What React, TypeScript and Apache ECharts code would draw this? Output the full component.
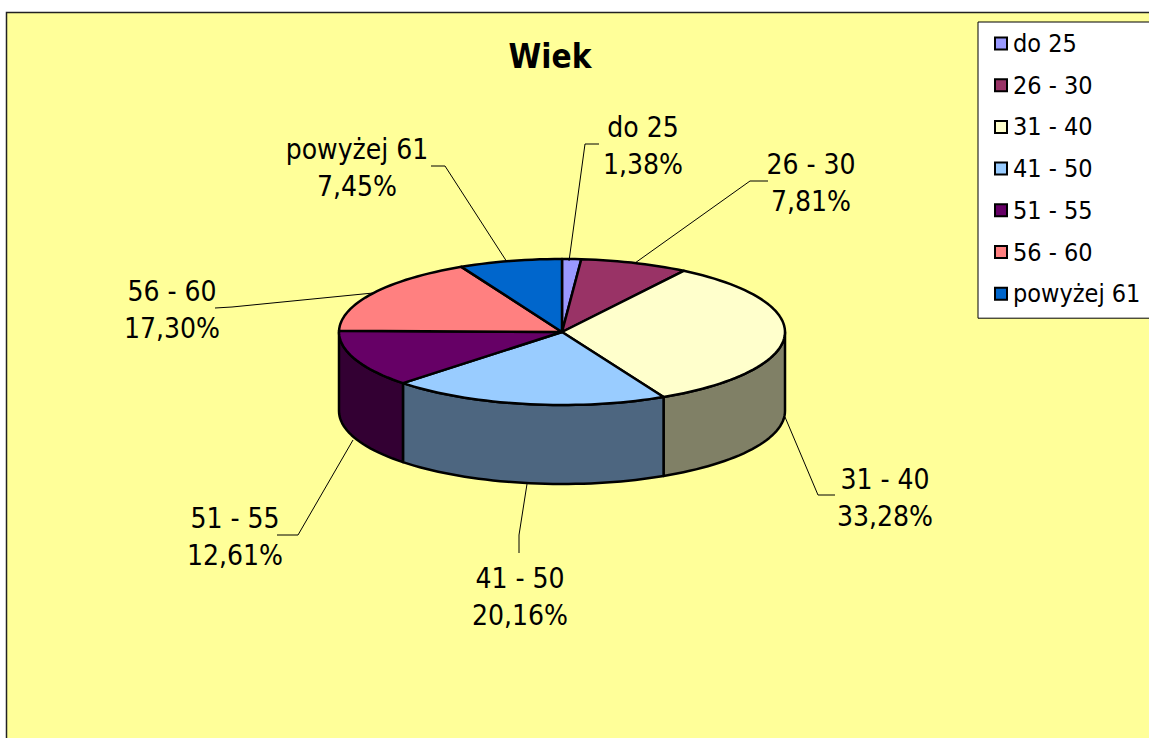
import React, { useEffect, useRef } from "react";
import * as echarts from "echarts";

const TITLE = "Wiek";
const categories = ["do 25", "26 - 30", "31 - 40", "41 - 50", "51 - 55", "56 - 60", "powyżej 61"];
const shares = [1.38, 7.81, 33.28, 20.16, 12.61, 17.30, 7.45];
const topColors = ["#9999FF", "#993366", "#FFFFCC", "#99CCFF", "#660066", "#FF8080", "#0066CC"];
const wallColors = ["#4D4D80", "#4D1A33", "#808066", "#4D6680", "#330033", "#804040", "#003366"];

const labelCenters = [
  [643, 146], [811, 183], [885, 498], [520, 597], [235, 537], [172, 310], [357, 168],
];
const leaders = [
  [[599, 144], [585, 144], [569, 261]],
  [[768, 181], [750, 181], [635, 263]],
  [[835, 495], [818, 495], [785, 417]],
  [[519, 553], [519, 535], [527, 484]],
  [[277, 535], [298, 535], [353, 440]],
  [[215, 308], [232, 307], [373, 293]],
  [[431, 166], [445, 166], [507, 262]],
];

const FONT = "'DejaVu Sans Condensed', 'DejaVu Sans', sans-serif";
const CX = 562, CY = 332, RX = 223, RY = 73, DEPTH = 79;

const point = (deg: number, dy = 0) => {
  const a = (deg * Math.PI) / 180;
  return [CX + RX * Math.sin(a), CY - RY * Math.cos(a) + dy];
};
const arc = (from: number, to: number, dy = 0) => {
  const out: number[][] = [];
  const n = Math.max(2, Math.ceil((to - from) / 2));
  for (let i = 0; i <= n; i++) out.push(point(from + ((to - from) * i) / n, dy));
  return out;
};

export default function App() {
  const ref = useRef<HTMLDivElement>(null);
  useEffect(() => {
    document.body.style.margin = "0";
    document.body.style.background = "#fff";
    const chart = echarts.init(ref.current!, undefined, { renderer: "svg" });
    const total = shares.reduce((a, b) => a + b, 0);
    let cum = 0;
    const series = categories.map((name, i) => {
      const start = (cum / total) * 360;
      cum += shares[i];
      const end = (cum / total) * 360;
      return {
        type: "custom",
        name,
        coordinateSystem: "none",
        silent: true,
        z: 2,
        itemStyle: { color: topColors[i] },
        data: [[shares[i], start, end]],
        renderItem: (_p: any, api: any) => {
          const s = api.value(1), e = api.value(2);
          const children: any[] = [];
          const ws = Math.max(s, 90), we = Math.min(e, 270);
          if (we > ws) {
            children.push({
              type: "polygon",
              shape: { points: [...arc(ws, we), ...arc(ws, we, DEPTH).reverse()] },
              style: { fill: wallColors[i], stroke: "#000", lineWidth: 2.5, lineJoin: "round" },
            });
          }
          children.push({
            type: "polygon",
            shape: { points: [[CX, CY], ...arc(s, e)] },
            style: { fill: topColors[i], stroke: "#000", lineWidth: 2.5, lineJoin: "round" },
          });
          children.push({
            type: "polyline",
            shape: { points: leaders[i] },
            style: { fill: "none", stroke: "#000", lineWidth: 1 },
          });
          children.push({
            type: "text",
            x: labelCenters[i][0],
            y: labelCenters[i][1],
            style: {
              text: `${name}\n${api.value(0).toFixed(2).replace(".", ",")}%`,
              font: `28px ${FONT}`,
              lineHeight: 37.5,
              fill: "#000",
              align: "center",
              verticalAlign: "middle",
            },
          });
          return { type: "group", children };
        },
      };
    });
    chart.setOption({
      animation: false,
      backgroundColor: "#fff",
      title: {
        text: TITLE,
        left: 545,
        top: 35,
        textAlign: "center",
        textStyle: { fontFamily: FONT, fontWeight: "bold", fontSize: 33, color: "#000" },
      },
      legend: {
        orient: "vertical",
        left: 978,
        top: 22,
        padding: [9, 20, 12, 16],
        icon: "rect",
        itemWidth: 12,
        itemHeight: 12,
        itemGap: 16.7,
        backgroundColor: "#fff",
        borderColor: "#000",
        borderWidth: 1,
        selectedMode: false,
        data: categories,
        itemStyle: { borderColor: "#000", borderWidth: 2 },
        textStyle: { fontFamily: FONT, fontSize: 25, color: "#000", padding: [0, 0, 0, 1] },
      },
      graphic: [{
        type: "rect",
        z: -1,
        silent: true,
        shape: { x: 6.5, y: 12.5, width: 1300, height: 900 },
        style: { fill: "#FFFF99", stroke: "#222", lineWidth: 1.5 },
      }],
      series,
    });
    return () => chart.dispose();
  }, []);
  return <div ref={ref} style={{ width: 1149, height: 738 }} />;
}
